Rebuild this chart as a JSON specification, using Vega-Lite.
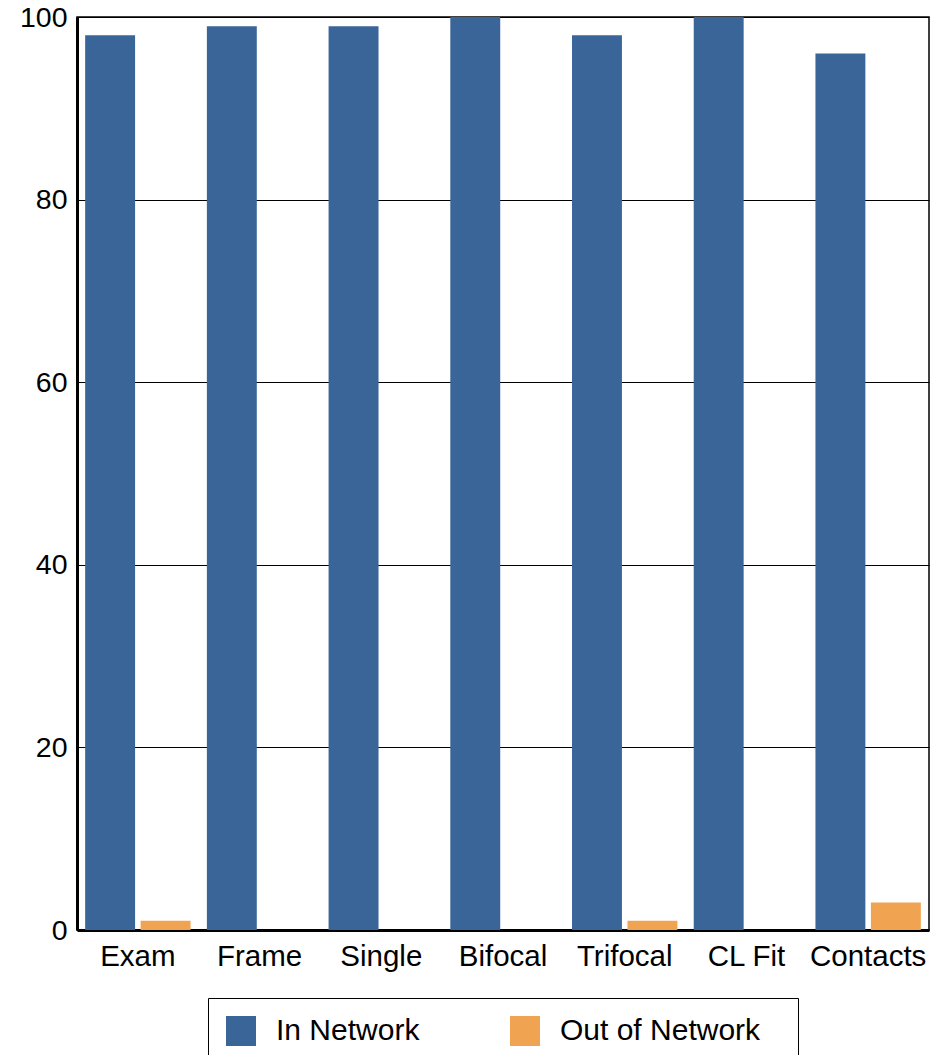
{
  "$schema": "https://vega.github.io/schema/vega-lite/v6.json",
  "width": 852,
  "height": 913,
  "autosize": "none",
  "padding": {"left": 77, "top": 17, "right": 18, "bottom": 125},
  "config": {
    "font": "Liberation Sans",
    "view": {"stroke": "#000000", "strokeWidth": 1.5},
    "axis": {"labelColor": "#000000", "labelFont": "Liberation Sans", "ticks": false, "domainColor": "#000000", "domainWidth": 3, "title": null}
  },
  "data": {
    "values": [
      {"category": "Exam", "network": "In Network", "value": 98},
      {"category": "Exam", "network": "Out of Network", "value": 1},
      {"category": "Frame", "network": "In Network", "value": 99},
      {"category": "Frame", "network": "Out of Network", "value": 0},
      {"category": "Single", "network": "In Network", "value": 99},
      {"category": "Single", "network": "Out of Network", "value": 0},
      {"category": "Bifocal", "network": "In Network", "value": 100},
      {"category": "Bifocal", "network": "Out of Network", "value": 0},
      {"category": "Trifocal", "network": "In Network", "value": 98},
      {"category": "Trifocal", "network": "Out of Network", "value": 1},
      {"category": "CL Fit", "network": "In Network", "value": 100},
      {"category": "CL Fit", "network": "Out of Network", "value": 0},
      {"category": "Contacts", "network": "In Network", "value": 96},
      {"category": "Contacts", "network": "Out of Network", "value": 3}
    ]
  },
  "mark": {"type": "bar"},
  "encoding": {
    "x": {
      "field": "category",
      "type": "nominal",
      "sort": ["Exam", "Frame", "Single", "Bifocal", "Trifocal", "CL Fit", "Contacts"],
      "scale": {"paddingInner": 0.134, "paddingOuter": 0.067},
      "axis": {"labelAngle": 0, "labelPadding": 12, "labelFontSize": 29.5, "labelLimit": 0, "grid": false}
    },
    "xOffset": {
      "field": "network",
      "type": "nominal",
      "sort": ["In Network", "Out of Network"],
      "scale": {"paddingInner": 0.1, "paddingOuter": 0}
    },
    "y": {
      "field": "value",
      "type": "quantitative",
      "scale": {"domain": [0, 100], "nice": false},
      "axis": {"values": [0, 20, 40, 60, 80, 100], "grid": true, "gridColor": "#000000", "gridWidth": 1, "gridOpacity": 1, "labelPadding": 10, "labelFontSize": 28.5}
    },
    "color": {
      "field": "network",
      "type": "nominal",
      "sort": ["In Network", "Out of Network"],
      "scale": {"domain": ["In Network", "Out of Network"], "range": ["#3A6598", "#F0A350"]},
      "legend": {
        "title": " ",
        "titleOrient": "right",
        "titleFontSize": 8,
        "titlePadding": 20,
        "orient": "none",
        "legendX": 131,
        "legendY": 981,
        "direction": "horizontal",
        "symbolType": "square",
        "symbolSize": 900,
        "symbolStrokeWidth": 0,
        "symbolOpacity": 1,
        "labelFontSize": 30,
        "labelLimit": 0,
        "labelColor": "#000000",
        "labelOffset": 20,
        "columnPadding": 90,
        "padding": 18,
        "strokeColor": "#000000"
      }
    }
  }
}
